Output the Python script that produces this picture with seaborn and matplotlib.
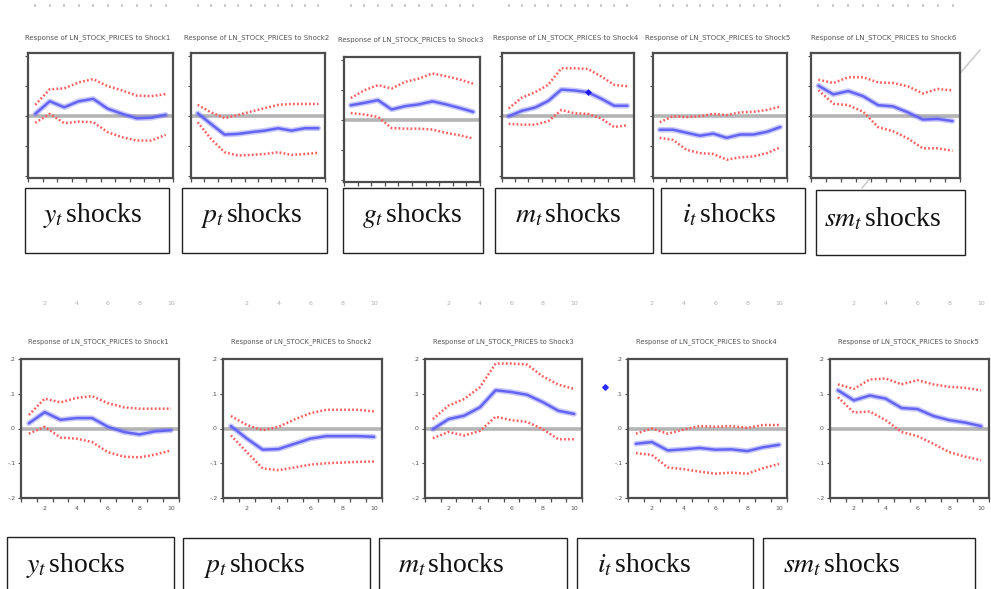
import matplotlib
matplotlib.use("Agg")
import matplotlib.pyplot as plt
import seaborn as sns
from matplotlib.patches import Rectangle
from matplotlib.lines import Line2D

sns.set_theme(style="white")
plt.rcParams['font.family'] = ['DejaVu Sans']
plt.rcParams['mathtext.fontset'] = 'stix'

W, H = 991, 589

periods = [1, 2, 3, 4, 5, 6, 7, 8, 9, 10]

# ---------------- top row (six shocks) ----------------
top_titles = ["Response of LN_STOCK_PRICES to Shock1", "Response of LN_STOCK_PRICES to Shock2",
              "Response of LN_STOCK_PRICES to Shock3", "Response of LN_STOCK_PRICES to Shock4",
              "Response of LN_STOCK_PRICES to Shock5", "Response of LN_STOCK_PRICES to Shock6"]
top_labels = [r"$y_t$shocks", r"$p_t$shocks", r"$g_t$shocks", r"$m_t$shocks", r"$i_t$shocks", r"$sm_t$shocks"]

top_y_resp = [0.008, 0.05, 0.03, 0.05, 0.058, 0.025, 0.008, -0.007, -0.005, 0.005]
top_y_hi = [0.038, 0.09, 0.093, 0.113, 0.124, 0.10, 0.086, 0.069, 0.067, 0.074]
top_y_lo = [-0.022, 0.008, -0.023, -0.018, -0.02, -0.053, -0.07, -0.081, -0.081, -0.062]

top_p_resp = [0.01, -0.026, -0.061, -0.059, -0.053, -0.048, -0.04, -0.048, -0.04, -0.04]
top_p_hi = [0.038, 0.013, -0.006, 0.004, 0.016, 0.027, 0.038, 0.041, 0.041, 0.041]
top_p_lo = [-0.02, -0.076, -0.12, -0.131, -0.129, -0.126, -0.12, -0.129, -0.126, -0.122]

top_g_resp = [0.05, 0.058, 0.067, 0.036, 0.047, 0.053, 0.063, 0.053, 0.041, 0.028]
top_g_hi = [0.074, 0.10, 0.117, 0.106, 0.128, 0.139, 0.156, 0.147, 0.136, 0.122]
top_g_lo = [0.024, 0.019, 0.011, -0.026, -0.028, -0.028, -0.031, -0.042, -0.05, -0.061]

top_m_resp = [0.0, 0.018, 0.029, 0.051, 0.089, 0.086, 0.08, 0.059, 0.035, 0.035]
top_m_hi = [0.026, 0.062, 0.08, 0.105, 0.16, 0.16, 0.158, 0.133, 0.105, 0.10]
top_m_lo = [-0.025, -0.028, -0.028, -0.017, 0.021, 0.01, 0.008, -0.007, -0.036, -0.03]

top_i_resp = [-0.045, -0.045, -0.055, -0.065, -0.058, -0.072, -0.061, -0.061, -0.052, -0.036]
top_i_hi = [-0.02, 0.0, -0.003, 0.0, 0.008, 0.004, 0.013, 0.015, 0.021, 0.032]
top_i_lo = [-0.072, -0.079, -0.112, -0.123, -0.126, -0.145, -0.137, -0.134, -0.123, -0.104]

top_sm_resp = [0.102, 0.073, 0.084, 0.067, 0.037, 0.033, 0.013, -0.011, -0.009, -0.016]
top_sm_hi = [0.122, 0.111, 0.13, 0.13, 0.113, 0.111, 0.10, 0.076, 0.091, 0.086]
top_sm_lo = [0.087, 0.042, 0.037, 0.015, -0.036, -0.05, -0.074, -0.107, -0.107, -0.115]

# ---------------- bottom row (five shocks) ----------------
bot_titles = ["Response of LN_STOCK_PRICES to Shock1", "Response of LN_STOCK_PRICES to Shock2",
              "Response of LN_STOCK_PRICES to Shock3", "Response of LN_STOCK_PRICES to Shock4",
              "Response of LN_STOCK_PRICES to Shock5"]
bot_labels = [r"$y_t$shocks", r"$p_t$shocks", r"$m_t$shocks", r"$i_t$shocks", r"$sm_t$shocks"]
y_tick_vals = [-0.2, -0.1, 0.0, 0.1, 0.2]
y_tick_labels = ["-.2", "-.1", ".0", ".1", ".2"]
x_tick_vals = [2, 4, 6, 8, 10]
x_tick_labels = ["2", "4", "6", "8", "10"]

bot_y_resp = [0.015, 0.047, 0.025, 0.03, 0.03, 0.005, -0.01, -0.017, -0.008, -0.005]
bot_y_hi = [0.039, 0.086, 0.075, 0.088, 0.093, 0.073, 0.061, 0.057, 0.057, 0.057]
bot_y_lo = [-0.015, 0.005, -0.026, -0.029, -0.039, -0.068, -0.081, -0.083, -0.075, -0.063]

bot_p_resp = [0.007, -0.029, -0.061, -0.059, -0.044, -0.029, -0.022, -0.022, -0.022, -0.024]
bot_p_hi = [0.036, 0.01, -0.005, 0.005, 0.026, 0.044, 0.054, 0.054, 0.054, 0.049]
bot_p_lo = [-0.02, -0.068, -0.115, -0.12, -0.112, -0.104, -0.10, -0.098, -0.096, -0.095]

bot_m_resp = [-0.002, 0.027, 0.037, 0.061, 0.11, 0.105, 0.097, 0.076, 0.051, 0.042]
bot_m_hi = [0.027, 0.066, 0.085, 0.119, 0.187, 0.187, 0.184, 0.15, 0.126, 0.114]
bot_m_lo = [-0.028, -0.01, -0.02, -0.007, 0.034, 0.024, 0.019, -0.002, -0.031, -0.031]

bot_i_resp = [-0.044, -0.039, -0.063, -0.06, -0.056, -0.061, -0.06, -0.065, -0.054, -0.047]
bot_i_hi = [-0.015, 0.0, -0.015, -0.003, 0.007, 0.005, 0.007, 0.002, 0.01, 0.01]
bot_i_lo = [-0.071, -0.076, -0.112, -0.117, -0.124, -0.13, -0.127, -0.13, -0.114, -0.102]

bot_sm_resp = [0.11, 0.081, 0.095, 0.086, 0.059, 0.056, 0.036, 0.024, 0.017, 0.007]
bot_sm_hi = [0.127, 0.114, 0.141, 0.144, 0.127, 0.139, 0.127, 0.12, 0.117, 0.11]
bot_sm_lo = [0.09, 0.046, 0.049, 0.024, -0.01, -0.022, -0.044, -0.068, -0.081, -0.091]

top_series = [(top_y_resp, top_y_hi, top_y_lo), (top_p_resp, top_p_hi, top_p_lo),
              (top_g_resp, top_g_hi, top_g_lo), (top_m_resp, top_m_hi, top_m_lo),
              (top_i_resp, top_i_hi, top_i_lo), (top_sm_resp, top_sm_hi, top_sm_lo)]
bot_series = [(bot_y_resp, bot_y_hi, bot_y_lo), (bot_p_resp, bot_p_hi, bot_p_lo),
              (bot_m_resp, bot_m_hi, bot_m_lo), (bot_i_resp, bot_i_hi, bot_i_lo),
              (bot_sm_resp, bot_sm_hi, bot_sm_lo)]

# ---------------- layout (pixels) ----------------
top_frames = [(28, 173, 53, 178), (191, 325, 53, 178), (344, 480, 57, 182),
              (502, 634, 53, 178), (653, 787, 53, 178), (811, 960, 53, 178)]
top_title_pos = [(98, 38), (257, 38), (411, 40), (566, 38), (718, 38), (884, 38)]
top_boxes = [(25, 169, 188, 253), (182, 327, 188, 253), (343, 483, 188, 253),
             (495, 653, 188, 253), (661, 805, 188, 253), (816, 965, 190, 255)]
top_text_pos = [(43, 215), (200, 215), (362, 215), (515, 215), (682, 215), (824, 219)]

bot_frames = [(21, 179, 359, 498), (223, 382, 359, 498), (425, 582, 359, 498),
              (628, 787, 359, 498), (830, 989, 359, 498)]
bot_title_pos = [(98, 342), (301, 342), (503, 342), (706, 342), (908, 342)]
bot_boxes = [(7, 174, 537, 600), (183, 370, 538, 600), (379, 567, 538, 600),
             (577, 753, 538, 600), (763, 975, 538, 600)]
bot_text_pos = [(26, 565), (203, 565), (398, 565), (597, 565), (783, 565)]

BLUE = "#6464f4"
RED = "#ff5a5a"
FRAME = "#4d4d4d"

fig = plt.figure(figsize=(W / 100, H / 100), dpi=100)
fig.patch.set_facecolor("white")


def px_axes(x0, x1, y0, y1):
    return fig.add_axes([x0 / W, 1 - y1 / H, (x1 - x0) / W, (y1 - y0) / H])


def draw_panel(ax, resp, hi, lo, ylim, show_labels):
    ax.set_facecolor("white")
    ax.axhline(0, color="#b4b4b4", lw=2.6, zorder=1)
    sns.lineplot(x=periods, y=hi, ax=ax, color=RED, lw=1.8, linestyle=(0, (0.7, 0.9)), zorder=3)
    sns.lineplot(x=periods, y=lo, ax=ax, color=RED, lw=1.8, linestyle=(0, (0.7, 0.9)), zorder=3)
    sns.lineplot(x=periods, y=resp, ax=ax, color=BLUE, lw=4.0, alpha=0.35, zorder=4)
    sns.lineplot(x=periods, y=resp, ax=ax, color=BLUE, lw=1.8, zorder=5)
    ax.set_xlim(0.5, 10.5)
    ax.set_ylim(*ylim)
    for s in ax.spines.values():
        s.set_visible(True)
        s.set_color(FRAME)
        s.set_linewidth(1.6)
    ax.set_xlabel("")
    ax.set_ylabel("")
    ax.set_yticks(y_tick_vals)
    ax.set_xticks([p + 0.5 for p in [0] + periods], minor=True)
    if show_labels:
        ax.set_xticks(x_tick_vals)
        ax.set_xticklabels(x_tick_labels)
        ax.set_yticklabels(y_tick_labels)
    else:
        ax.set_xticks([])
        ax.set_yticklabels([])
    ax.tick_params(axis="y", which="major", direction="out", length=2.5, width=0.8,
                   color=FRAME, labelsize=4.5, labelcolor="#555555", pad=1.5, left=True)
    ax.tick_params(axis="x", which="major", length=0, labelsize=4.5, labelcolor="#555555", pad=6)
    ax.tick_params(axis="x", which="minor", direction="out", length=3, width=0.9,
                   color=FRAME, bottom=True)
    ax.grid(False)


# top row
for i in range(6):
    x0, x1, y0, y1 = top_frames[i]
    ax = px_axes(x0, x1, y0, y1)
    resp, hi, lo = top_series[i]
    draw_panel(ax, resp, hi, lo, (-0.206, 0.211), False)
    if i == 3:
        sns.scatterplot(x=[periods[6]], y=[resp[6]], ax=ax, marker="D", s=10,
                        color="#1a1aee", edgecolor="#1a1aee", zorder=6)
    cx, cy = top_title_pos[i]
    fig.text(cx / W, 1 - cy / H, top_titles[i], ha="center", va="center",
             fontsize=5.0, color="#555555")
    # faint tick residue from the row above
    dx = px_axes(x0, x1, 0, 7)
    dx.set_xlim(0.5, 10.5)
    dx.set_ylim(0, 1)
    for s in dx.spines.values():
        s.set_visible(False)
    dx.set_facecolor("none")
    dx.set_xticks(periods)
    dx.set_xticklabels([])
    dx.set_yticks([])
    dx.tick_params(axis="x", direction="in", length=2.5, width=1.2, color="#c4c4c4", bottom=True)

# bottom row
for i in range(5):
    x0, x1, y0, y1 = bot_frames[i]
    ax = px_axes(x0, x1, y0, y1)
    resp, hi, lo = bot_series[i]
    draw_panel(ax, resp, hi, lo, (-0.2, 0.2), True)
    cx, cy = bot_title_pos[i]
    fig.text(cx / W, 1 - cy / H, bot_titles[i], ha="center", va="center",
             fontsize=4.9, color="#555555")
    dx = px_axes(x0, x1, 296, 298)
    dx.set_xlim(0.5, 10.5)
    for s in dx.spines.values():
        s.set_visible(False)
    dx.set_facecolor("none")
    dx.set_yticks([])
    dx.set_xticks(x_tick_vals)
    dx.set_xticklabels(x_tick_labels)
    dx.tick_params(axis="x", length=0, labelsize=4.5, labelcolor="#b0b0b0", pad=2)

# diagonal stray line in the top right
fig.add_artist(Line2D([980 / W, 862 / W], [1 - 50 / H, 1 - 188 / H], transform=fig.transFigure,
                      color="#c9c9c9", lw=1.1, zorder=0))
# stray blue dot near the bottom i_t panel
fig.add_artist(Line2D([605 / W], [1 - 387 / H], transform=fig.transFigure, marker="D",
                      markersize=2.8, color="#2a2aff", lw=0, zorder=10))

# label boxes
for (x0, x1, y0, y1), (tx, ty), lab in list(zip(top_boxes, top_text_pos, top_labels)) + \
        list(zip(bot_boxes, bot_text_pos, bot_labels)):
    fig.add_artist(Rectangle((x0 / W, 1 - y1 / H), (x1 - x0) / W, (y1 - y0) / H,
                             transform=fig.transFigure, facecolor="white", edgecolor="#222222",
                             lw=1.0, zorder=8))
    var, word = lab.split("$shocks")
    fig.text(tx / W, 1 - ty / H, var + "$" + r"$\,$" + "shocks", ha="left", va="center",
             fontsize=20, family="Liberation Serif", color="#111111", zorder=9)

fig.savefig("out.png", dpi=100, facecolor="white")
